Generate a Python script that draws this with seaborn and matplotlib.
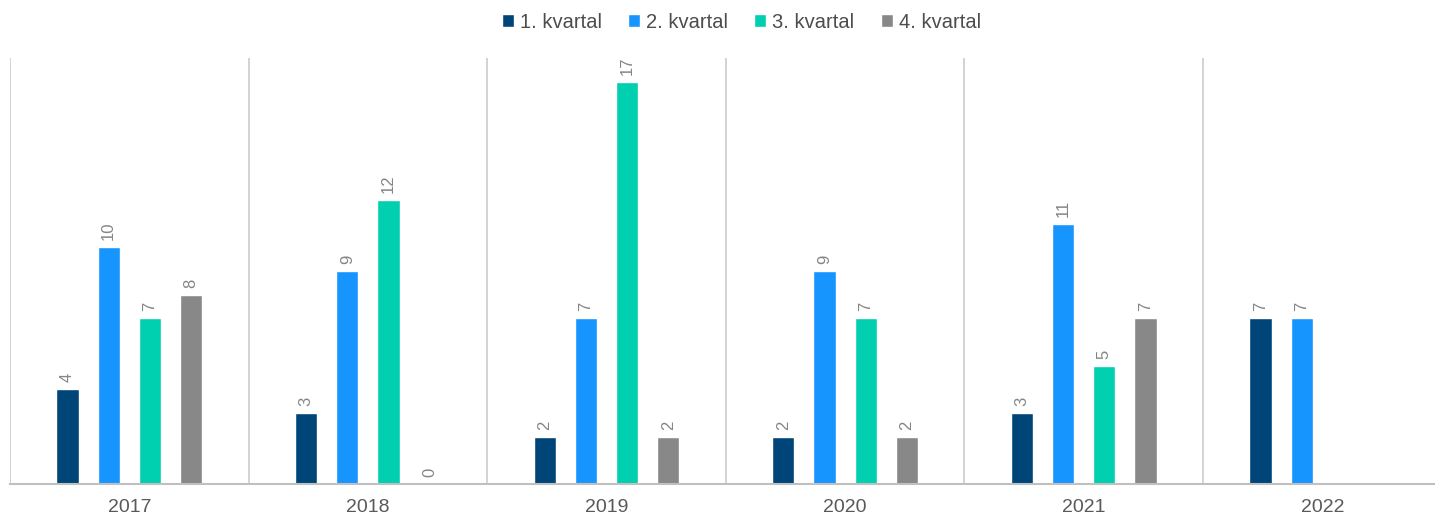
import matplotlib
matplotlib.use("Agg")
import matplotlib.pyplot as plt
import numpy as np
import pandas as pd
import seaborn as sns

# Data
years = ['2017', '2018', '2019', '2020', '2021', '2022']
quarters = ['1. kvartal', '2. kvartal', '3. kvartal', '4. kvartal']
q1 = [4, 3, 2, 2, 3, 7]
q2 = [10, 9, 7, 9, 11, 7]
q3 = [7, 12, 17, 7, 5, np.nan]
q4 = [8, 0, 2, 2, 7, np.nan]
colors = ['#004578', '#1795FF', '#00CFB0', '#888888']

df = pd.DataFrame({'year': years, quarters[0]: q1, quarters[1]: q2,
                   quarters[2]: q3, quarters[3]: q4})
df = df.melt(id_vars='year', var_name='quarter', value_name='value')

sns.set_style('white')
plt.rcParams['font.family'] = ['Liberation Sans', 'DejaVu Sans']

fig = plt.figure(figsize=(14.35, 5.18), dpi=100)
ax = fig.add_axes([10 / 1435, 34 / 518, 1425 / 1435, 426 / 518])

sns.barplot(data=df, x='year', y='value', hue='quarter', order=years,
            hue_order=quarters, palette=colors, width=0.69, gap=0.46,
            saturation=1, ax=ax, legend=True, errorbar=None)

for c in ax.containers:
    labels = ['' if np.isnan(v) else f'{v:.0f}' for v in c.datavalues]
    ax.bar_label(c, labels=labels, rotation=90, padding=5, fontsize=12,
                 color='#858585')

# group separators
for i in range(len(years)):
    ax.axvline(i - 0.5, color='#d0d0d0', lw=1.3, zorder=0)

ax.set_ylim(0, 18)
ax.set_xlim(-0.5, -0.5 + 1425 / 238.6)
ax.set_xlabel('')
ax.set_ylabel('')
ax.set_yticks([])
for s in ['top', 'right', 'left']:
    ax.spines[s].set_visible(False)
ax.spines['bottom'].set_color('#c0c0c0')
ax.spines['bottom'].set_linewidth(1.5)
ax.tick_params(axis='x', length=0, labelsize=14, labelcolor='#595959', pad=11)

handles, labs = ax.get_legend_handles_labels()
ax.get_legend().remove()
leg = fig.legend(handles, labs, loc='upper center', bbox_to_anchor=(0.5165, 1.01),
                 ncol=4, frameon=False, fontsize=14.5, handlelength=0.6,
                 handleheight=0.6, handletextpad=0.3, columnspacing=1.3)
for t in leg.get_texts():
    t.set_color('#4d4d4d')

fig.savefig('out.png', dpi=100)
